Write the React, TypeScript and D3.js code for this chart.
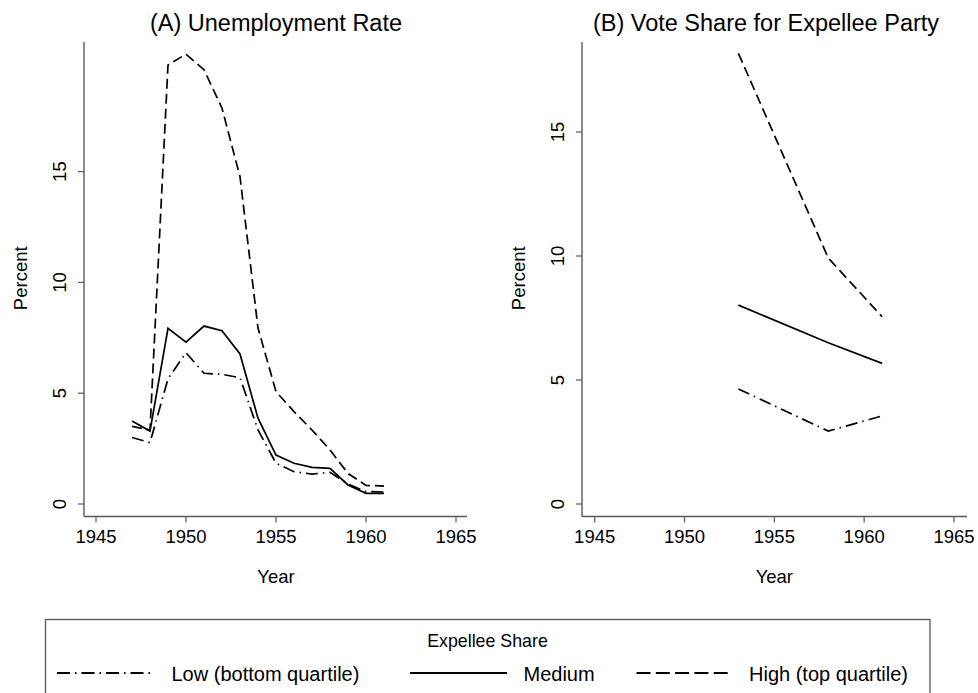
import React from "react";
import * as d3 from "d3";

const years = [1947, 1948, 1949, 1950, 1951, 1952, 1953, 1954, 1955, 1956, 1957, 1958, 1959, 1960, 1961];
const unempLow = [3.0, 2.77, 5.65, 6.83, 5.9, 5.85, 5.7, 3.34, 1.84, 1.46, 1.35, 1.43, 0.9, 0.56, 0.54];
const unempMedium = [3.75, 3.29, 7.93, 7.3, 8.03, 7.82, 6.77, 3.87, 2.21, 1.84, 1.65, 1.61, 0.86, 0.48, 0.48];
const unempHigh = [3.5, 3.34, 19.81, 20.3, 19.6, 17.86, 14.77, 7.94, 5.07, 4.17, 3.34, 2.44, 1.38, 0.84, 0.81];

const voteYears = [1953, 1958, 1961];
const voteLow = [4.64, 2.94, 3.55];
const voteMedium = [8.02, 6.5, 5.67];
const voteHigh = [18.17, 9.92, 7.55];

const xTicks = [1945, 1950, 1955, 1960, 1965];
const yTicks = [0, 5, 10, 15];

const seriesNames = ["Low (bottom quartile)", "Medium", "High (top quartile)"];
const legendTitle = "Expellee Share";

const FONT = "'Liberation Sans', Arial, Helvetica, sans-serif";
const DASH_STYLES = ["12,5,1.5,5", "none", "10,5"];
const LEGEND_DASH = ["13,5,1.5,5", "none", "14,5.3"];

type PanelProps = {
  title: string;
  xs: number[];
  series: number[][];
  axisX: number;
  axisRight: number;
  axisTop: number;
  axisBottom: number;
  xRange: [number, number];
  yZero: number;
  yPerUnit: number;
  titleX: number;
};

function Panel(p: PanelProps) {
  const x = d3.scaleLinear().domain([1945, 1965]).range(p.xRange);
  const y = d3.scaleLinear().domain([0, 10]).range([p.yZero, p.yZero - 10 * p.yPerUnit]);
  const line = d3
    .line<[number, number]>()
    .x((d) => x(d[0]))
    .y((d) => y(d[1]));
  const axisColor = "#5a5a5a";
  const midX = (p.xRange[0] + p.xRange[1]) / 2;
  const midY = (p.axisTop + p.axisBottom) / 2;
  return (
    <g>
      <text x={p.titleX} y={31} textAnchor="middle" fontSize={23.5} fontFamily={FONT} fill="#000">
        {p.title}
      </text>
      <line x1={p.axisX} x2={p.axisX} y1={p.axisTop} y2={p.axisBottom} stroke={axisColor} strokeWidth={1.4} />
      <line x1={p.axisX} x2={p.axisRight} y1={p.axisBottom} y2={p.axisBottom} stroke={axisColor} strokeWidth={1.4} />
      {yTicks.map((t) => (
        <g key={"y" + t}>
          <line x1={p.axisX - 6} x2={p.axisX} y1={y(t)} y2={y(t)} stroke={axisColor} strokeWidth={1.2} />
          <text
            transform={`translate(${p.axisX - 18},${y(t)}) rotate(-90)`}
            textAnchor="middle"
            fontSize={18.5}
            fontFamily={FONT}
            fill="#000"
          >
            {t}
          </text>
        </g>
      ))}
      {xTicks.map((t) => (
        <g key={"x" + t}>
          <line x1={x(t)} x2={x(t)} y1={p.axisBottom} y2={p.axisBottom + 6} stroke={axisColor} strokeWidth={1.2} />
          <text x={x(t)} y={p.axisBottom + 26.5} textAnchor="middle" fontSize={18.5} fontFamily={FONT} fill="#000">
            {t}
          </text>
        </g>
      ))}
      <text
        transform={`translate(${p.axisX - 57},${midY - 1}) rotate(-90)`}
        textAnchor="middle"
        fontSize={18.5}
        fontFamily={FONT}
        fill="#000"
      >
        Percent
      </text>
      <text x={midX} y={p.axisBottom + 66.5} textAnchor="middle" fontSize={18.5} fontFamily={FONT} fill="#000">
        Year
      </text>
      {p.series.map((vals, i) => (
        <path
          key={i}
          d={line(p.xs.map((yr, j) => [yr, vals[j]] as [number, number])) || ""}
          fill="none"
          stroke="#000"
          strokeWidth={1.7}
          strokeDasharray={DASH_STYLES[i]}
          strokeLinejoin="miter"
        />
      ))}
    </g>
  );
}

export default function App() {
  const legendY = 673;
  const legendItems = [
    { x1: 57, x2: 155, tx: 171.5 },
    { x1: 410, x2: 507, tx: 523.5 },
    { x1: 636.5, x2: 733, tx: 749 },
  ];
  return (
    <svg width={978} height={693} style={{ position: "absolute", left: 0, top: 0, background: "#fff" }}>
      <rect x={0} y={0} width={978} height={693} fill="#fff" />
      <Panel
        title="(A) Unemployment Rate"
        xs={years}
        series={[unempLow, unempMedium, unempHigh]}
        axisX={84}
        axisRight={467}
        axisTop={42}
        axisBottom={516.5}
        xRange={[96, 456]}
        yZero={504}
        yPerUnit={22.16}
        titleX={276}
      />
      <Panel
        title="(B) Vote Share for Expellee Party"
        xs={voteYears}
        series={[voteLow, voteMedium, voteHigh]}
        axisX={582}
        axisRight={967}
        axisTop={42}
        axisBottom={516.5}
        xRange={[594.7, 954]}
        yZero={504}
        yPerUnit={24.8}
        titleX={766}
      />
      <rect x={45.5} y={619.5} width={884.5} height={90} fill="none" stroke="#5a5a5a" strokeWidth={1.3} />
      <text x={487.5} y={647} textAnchor="middle" fontSize={17.8} fontFamily={FONT} fill="#000">
        {legendTitle}
      </text>
      {legendItems.map((it, i) => (
        <g key={i}>
          <line
            x1={it.x1}
            x2={it.x2}
            y1={legendY}
            y2={legendY}
            stroke="#000"
            strokeWidth={2.2}
            strokeDasharray={LEGEND_DASH[i]}
          />
          <text x={it.tx} y={681} fontSize={20} fontFamily={FONT} fill="#000">
            {seriesNames[i]}
          </text>
        </g>
      ))}
    </svg>
  );
}
